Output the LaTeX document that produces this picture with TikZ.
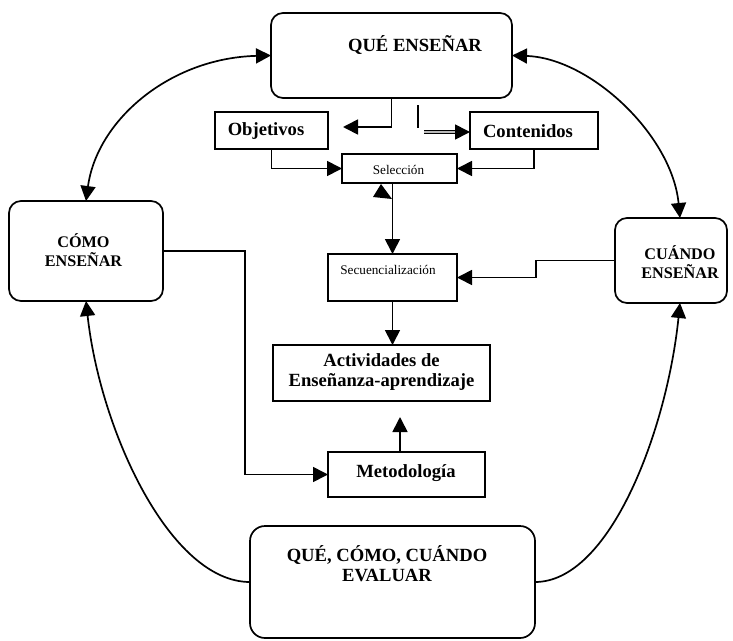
\documentclass[tikz,border=0pt]{standalone}
\usepackage{fontspec}
\setmainfont{Liberation Serif}
\usetikzlibrary{arrows.meta}
\begin{document}
\begin{tikzpicture}[x=1pt,y=-1pt,
  box/.style={draw,line width=1.7pt,inner sep=0pt,outer sep=0pt},
  rbox/.style={box,rounded corners=12pt},
  arr/.style={line width=1.7pt,-{Triangle[length=15pt,width=15pt]}},
  barr/.style={line width=1.7pt,{Triangle[length=15pt,width=15pt]}-{Triangle[length=15pt,width=15pt]}},
  big/.style={inner sep=0pt,align=center,font=\fontsize{18.6}{20}\selectfont\bfseries},
  mid/.style={inner sep=0pt,align=center,font=\fontsize{16.2}{18.5}\selectfont\bfseries},
  small/.style={inner sep=0pt,align=center,font=\fontsize{13.2}{15}\selectfont}]
\useasboundingbox (0,0) rectangle (733,640);
% boxes
\node[rbox,minimum width=241pt,minimum height=85pt] (que) at (391.5,55.5) {};
\node[big] (queT) at (415,45) {QUÉ ENSEÑAR};
\node[box,minimum width=113pt,minimum height=37pt] (obj) at (271.5,130.5) {};
\node[big] (objT) at (266,131) {Objetivos};
\node[box,minimum width=128pt,minimum height=37pt] (cont) at (534,130.5) {};
\node[big] (contT) at (528,131) {Contenidos};
\node[box,minimum width=115pt,minimum height=29pt] (sel) at (399.5,168.5) {};
\node[small] (selT) at (398.5,170) {Selección};
\node[box,minimum width=129pt,minimum height=47pt] (sec) at (392.5,277.5) {};
\node[small] (secT) at (388,270) {Secuencialización};
\node[box,minimum width=217pt,minimum height=56pt] (act) at (381.5,373) {};
\node[big] (actT) at (381.5,372) {Actividades de\\Enseñanza-aprendizaje};
\node[box,minimum width=157pt,minimum height=45pt] (met) at (406.5,474.5) {};
\node[big] (metT) at (406,473) {Metodología};
\node[rbox,rounded corners=15pt,minimum width=285pt,minimum height=112pt] (eval) at (392.5,582) {};
\node[big] (evalT) at (387,564) {QUÉ, CÓMO, CUÁNDO\\EVALUAR};
\node[rbox,minimum width=154pt,minimum height=100pt] (como) at (86,251) {};
\node[mid] (comoT) at (83.5,250) {CÓMO\\ENSEÑAR};
\node[rbox,minimum width=112pt,minimum height=85pt] (cuando) at (671,260.5) {};
\node[mid] (cuandoT) at (680,262) {CUÁNDO\\ENSEÑAR};
% connectors near top
\coordinate (t1) at (343,127);
\draw[arr] (que.south) |- (t1);
\coordinate (v1) at (418,105);
\coordinate (v2) at (418,128);
\draw[line width=1.7pt] (v1) -- (v2);
\coordinate (d1) at (424,132);
\coordinate (d2) at (456,132);
\draw[line width=1.1pt,double=gray!55,double distance=2pt] (d1) -- (d2);
\draw[arr] (d2) -- (d2 -| cont.west);
\draw[arr] (obj.south) |- (sel.west);
\draw[arr] (cont.south) |- (sel.east);
\draw[arr] (sel.south -| sec.north) -- (sec.north);
\coordinate (w1) at (381,184);
\coordinate (w2) at (373,197);
\coordinate (w3) at (392,199);
\fill (w1) -- (w2) -- (w3) -- cycle;
\draw[arr] (sec.south) -- (sec.south |- act.north);
\coordinate (t3) at (400,417);
\draw[arr] (t3 |- met.north) -- (t3);
\coordinate (k1) at (245,0);
\draw[arr] (como.east) -- (como.east -| k1) -- (k1 |- met.west) -- (met.west);
\coordinate (k2) at (536,0);
\draw[arr] (cuando.west) -- (k2 |- cuando.west) -- (k2 |- sec.east) -- (sec.east);
% curves
\coordinate (cn) at (cuando.north -| 680,0);
\coordinate (cs) at (cuando.south -| 680,0);
\draw[barr] (como.north) .. controls (97,120) and (170,58) .. (que.west);
\draw[barr] (que.east) .. controls (590,58) and (672,135) .. (cn);
\draw[arr] (eval.west) .. controls (170,582) and (100,430) .. (como.south);
\draw[arr] (eval.east) .. controls (610,582) and (667,430) .. (cs);
\end{tikzpicture}
\end{document}
